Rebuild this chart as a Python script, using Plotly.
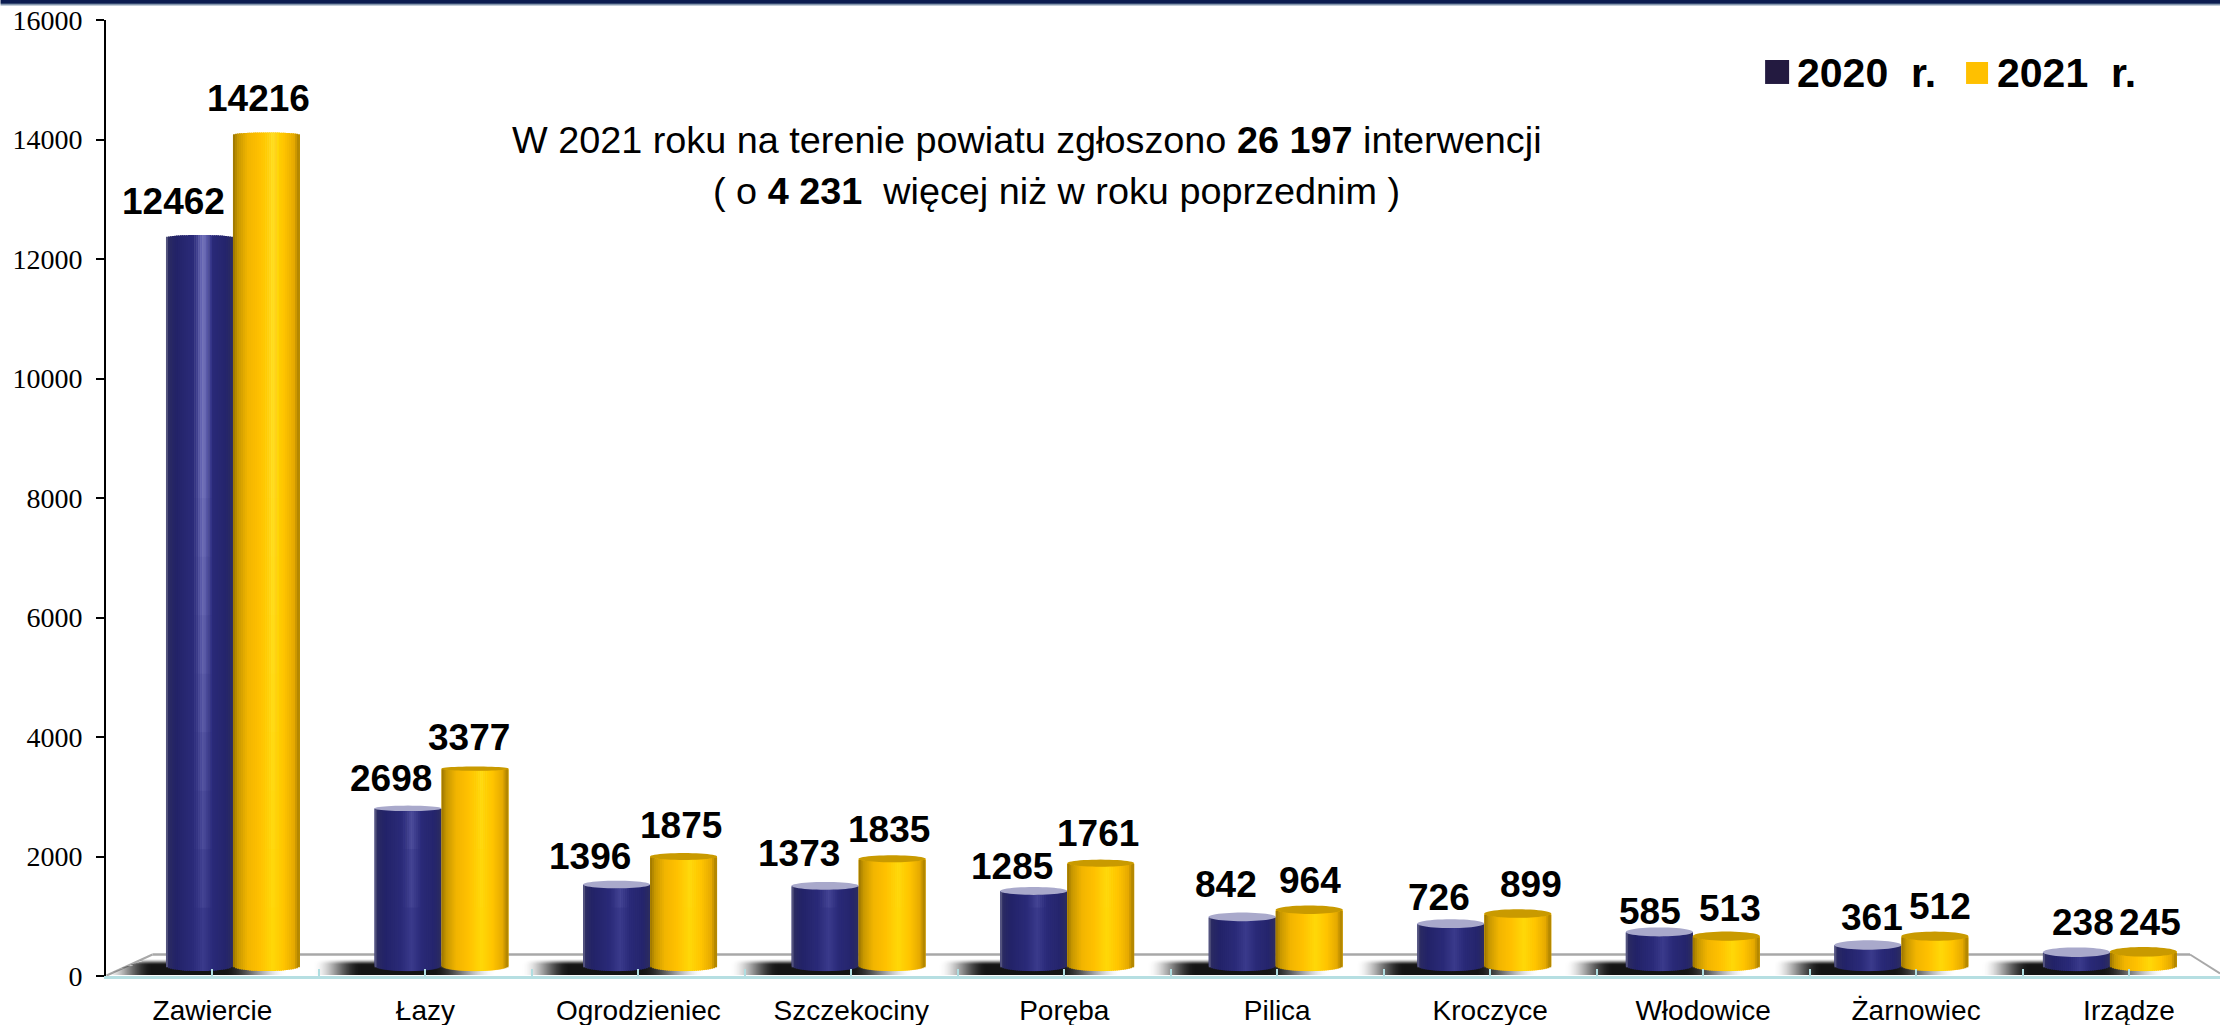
import math
import numpy as np
import plotly.graph_objects as go

# ---- data ----
CATEGORIES = ["Zawiercie", "Łazy", "Ogrodzieniec", "Szczekociny", "Poręba",
              "Pilica", "Kroczyce", "Włodowice", "Żarnowiec", "Irządze"]
VALUES_2020 = [12462, 2698, 1396, 1373, 1285, 842, 726, 585, 361, 238]
VALUES_2021 = [14216, 3377, 1875, 1835, 1761, 964, 899, 513, 512, 245]
SERIES_NAMES = ["2020\u00a0 r.", "2021\u00a0 r."]
Y_TICKS = [0, 2000, 4000, 6000, 8000, 10000, 12000, 14000, 16000]

# ---- label nudges in pixels (hand placed in the source chart) ----
DX_2020 = [-26, -17, -27, -26, -22, -16, -12, -9, 4, 7]
DY_2020 = [36, 30, 28, 32, 24, 32, 26, 20, 28, 30]
DX_2021 = [-8, -6, -3, -3, -3, 1, 13, 4, 5, 7]
DY_2021 = [36, 31, 31, 29, 30, 29, 29, 28, 30, 29]

# ---- layout geometry ----
W, H = 2220, 1025
L, T, Y0 = 105.5, 20.0, 976.5
PW, PH = W - L, Y0 - T
CAT_PX = 213.0
# projected (3D look) axes for the cylinders
BAR_STEP = 208.6
BAR_X0 = 232.5
BAR_Y0 = 966.6
BAR_SCALE = 0.0585
HALF_W = 33.5
x2_range = [(L - BAR_X0) / BAR_STEP, (W - BAR_X0) / BAR_STEP]
y2_range = [(BAR_Y0 - Y0) / BAR_SCALE, (BAR_Y0 - T) / BAR_SCALE]

def px_to_x2(px):
    return (px - BAR_X0) / BAR_STEP

def paper_x(px):
    return (px - L) / PW

def paper_y(py):
    return (Y0 - py) / PH

def hex2rgb(c):
    return tuple(int(c[i:i + 2], 16) for i in (1, 3, 5))

def ramp(stops, u):
    for (a, ca), (b, cb) in zip(stops, stops[1:]):
        if a <= u <= b:
            t = (u - a) / (b - a)
            x, y = hex2rgb(ca), hex2rgb(cb)
            return "rgb(%d,%d,%d)" % tuple(round(p + (q - p) * t) for p, q in zip(x, y))
    return stops[-1][1]

BLUE_STOPS = [(-1, "#8e8ea6"), (-0.95, "#2c2c62"), (-0.7, "#232368"), (-0.2, "#2a2a78"),
              (0.13, "#3a3a8c"), (0.42, "#2a2a78"), (0.82, "#25256c"), (1, "#2c2c60")]
GOLD_STOPS = [(-1, "#9a7400"), (-0.85, "#c89800"), (-0.55, "#f2b500"), (-0.2, "#ffc000"),
              (0.2, "#ffd808"), (0.55, "#ffc400"), (0.85, "#e6aa00"), (1, "#a88000")]
CAP_COLORS = ["#a9a9cb", "#c99a00"]
MAIN_COLORS = ["#2a2a78", "#ffc000"]
GLOW_COLORS = ["rgba(170,170,235,%.3f)", "rgba(255,240,90,%.3f)"]

def cap_ry(v):
    return max(2.0, 5.0 * (1 - v / 6000.0))

def dome(v):
    return 2.5 if v >= 6000 else 0.0

fig = go.Figure()
xs = list(range(len(CATEGORIES)))

# keeps the visible axes bound to the true values
fig.add_trace(go.Scatter(x=xs, y=VALUES_2020, mode="none", showlegend=False, hoverinfo="skip"))

# floor shadows
gx = np.arange(L, W + 1, 3.0)
gy = np.arange(957.0, 975.5, 1.0)
z = np.zeros((len(gy), len(gx)))
def smooth(t):
    t = np.clip(t, 0, 1)
    return t * t * (3 - 2 * t)
for k in xs:
    left = BAR_X0 + BAR_STEP * k - 2 * HALF_W
    prof = smooth((gx - (left - 62)) / 48) * (1 - smooth((gx - (left + 58)) / 62))
    z = np.maximum(z, prof[None, :] * smooth((gy[:, None] - 958) / 6.5))
floor_edge = L + (976 - gy[:, None]) * 47 / 21
z = z * (gx[None, :] > floor_edge)
fig.add_trace(go.Heatmap(x=[px_to_x2(p) for p in gx], y=[(BAR_Y0 - p) / BAR_SCALE for p in gy],
                         z=z.tolist(), xaxis="x2", yaxis="y2", showscale=False, hoverinfo="skip",
                         zmin=0, zmax=1, zsmooth="best",
                         colorscale=[[0, "rgba(20,20,20,0)"], [1, "rgba(20,20,20,1)"]]))

# cylinders
STRIP = 2.0
n_strips = int(2 * HALF_W / STRIP)
for s, (vals, stops) in enumerate(zip([VALUES_2020, VALUES_2021], [BLUE_STOPS, GOLD_STOPS])):
    start = -2 * HALF_W / BAR_STEP if s == 0 else 0.0
    full = 2 * HALF_W / BAR_STEP
    fig.add_trace(go.Bar(x=xs, y=vals, name=SERIES_NAMES[s], xaxis="x2", yaxis="y2",
                         width=full, offset=start, marker=dict(color=MAIN_COLORS[s], line=dict(width=0)),
                         showlegend=False, hoverinfo="skip"))
    for i in range(n_strips):
        u = -1 + (i + 0.5) * 2 / n_strips
        sq = math.sqrt(max(0, 1 - u * u))
        tops, bases = [], []
        for v in vals:
            top = v + dome(v) * sq / BAR_SCALE
            if dome(v) == 0:
                top = v - cap_ry(v) * sq / BAR_SCALE
            base = -5.0 * sq / BAR_SCALE
            tops.append(top - base)
            bases.append(base)
        off = start + i * STRIP / BAR_STEP
        w = min(STRIP * 1.5, 2 * HALF_W - i * STRIP) / BAR_STEP
        fig.add_trace(go.Bar(x=xs, y=tops, base=bases, xaxis="x2", yaxis="y2", width=w, offset=off,
                             marker=dict(color=ramp(stops, u), line=dict(width=0)),
                             showlegend=False, hoverinfo="skip"))
    # brighter sheen towards the top of tall cylinders
    centre = 0.13 if s == 0 else 0.2
    for band in [1000, 2000, 3000, 4000, 5000, 6000, 7000, 8000]:
        for i in range(n_strips):
            u = -1 + (i + 0.5) * 2 / n_strips
            a = 0.09 * max(0.0, 1 - abs(u - centre) / 0.3)
            if a < 0.005:
                continue
            if s == 1:
                a *= 0.7
            hts, bs, cx = [], [], []
            for k, v in enumerate(vals):
                if v > band:
                    sq = math.sqrt(max(0, 1 - u * u))
                    top = v + dome(v) * sq / BAR_SCALE if dome(v) else v - cap_ry(v) * sq / BAR_SCALE
                    hts.append(top - band)
                    bs.append(band)
                    cx.append(k)
            if cx:
                fig.add_trace(go.Bar(x=cx, y=hts, base=bs, xaxis="x2", yaxis="y2",
                                     width=STRIP / BAR_STEP, offset=start + i * STRIP / BAR_STEP,
                                     marker=dict(color=GLOW_COLORS[s] % a, line=dict(width=0)),
                                     showlegend=False, hoverinfo="skip"))
    # top faces
    ex, ey = [], []
    for k, v in enumerate(vals):
        if dome(v):
            continue
        c = k + (start + full / 2)
        for t in np.linspace(0, 2 * math.pi, 49):
            ex.append(c + (HALF_W / BAR_STEP) * math.cos(t))
            ey.append(v + cap_ry(v) / BAR_SCALE * math.sin(t))
        ex.append(None)
        ey.append(None)
    fig.add_trace(go.Scatter(x=ex, y=ey, xaxis="x2", yaxis="y2", mode="none", fill="toself",
                             fillcolor=CAP_COLORS[s], showlegend=False, hoverinfo="skip"))

# value labels
annotations = []
for s, (vals, dx, dy) in enumerate([(VALUES_2020, DX_2020, DY_2020), (VALUES_2021, DX_2021, DY_2021)]):
    for k, v in enumerate(vals):
        annotations.append(dict(x=k + (-HALF_W if s == 0 else HALF_W) / BAR_STEP, y=v, xref="x2", yref="y2",
                                text="<b>%d</b>" % v, showarrow=False, xshift=dx[k], yshift=dy[k],
                                xanchor="center", yanchor="middle",
                                font=dict(family="Liberation Sans", size=37, color="black")))

TEXT_FONT = dict(family="Liberation Sans", size=37.8, color="black")
annotations += [
    dict(x=paper_x(1027), y=paper_y(140), xref="paper", yref="paper", showarrow=False,
         xanchor="center", yanchor="middle", font=TEXT_FONT,
         text="W 2021 roku na terenie powiatu zgłoszono <b>26 197</b> interwencji"),
    dict(x=paper_x(1056), y=paper_y(191), xref="paper", yref="paper", showarrow=False,
         xanchor="center", yanchor="middle", font=TEXT_FONT,
         text="( o <b>4 231</b>  więcej niż w roku poprzednim )"),
]
LEGEND_FONT = dict(family="Liberation Sans", size=41, color="black")
for label, px in zip(SERIES_NAMES, [1795, 1995]):
    annotations.append(dict(x=paper_x(px), y=paper_y(73), xref="paper", yref="paper", showarrow=False,
                            xanchor="left", yanchor="middle", text="<b>%s</b>" % label, font=LEGEND_FONT))

def rect(x0, y0, x1, y1, color, layer="above"):
    return dict(type="rect", xref="paper", yref="paper", x0=paper_x(x0), x1=paper_x(x1),
                y0=paper_y(y0), y1=paper_y(y1), fillcolor=color, line=dict(width=0), layer=layer)

def seg(x0, y0, x1, y1, color, width):
    return dict(type="line", xref="paper", yref="paper", x0=paper_x(x0), x1=paper_x(x1),
                y0=paper_y(y0), y1=paper_y(y1), line=dict(color=color, width=width), layer="below")

shapes = [
    rect(0, 0, W, 3, "#0b1c50"), rect(0, 3, W, 4, "#33466f"), rect(0, 4, W, 5, "#8497ad"),
    rect(0, 5, W, 6, "#c3ccd8"),
    rect(1765, 60, 1789, 84, "#231a40"), rect(1966, 62, 1988, 84, "#ffc000"),
    seg(152, 955, 2190, 955, "#a8a8a8", 2.5),
    seg(106, 976, 152, 955, "#a8a8a8", 2),
    seg(2190, 955, 2220, 974, "#a8a8a8", 2),
]

x_tickvals, x_ticktext = [], []
for k, name in enumerate(CATEGORIES):
    x_tickvals += [k - 0.5, k]
    x_ticktext += ["", name]

fig.update_layout(
    width=W, height=H, autosize=False, barmode="overlay", showlegend=False,
    margin=dict(l=L, r=0, t=T, b=H - Y0, pad=0, autoexpand=False),
    paper_bgcolor="white", plot_bgcolor="rgba(0,0,0,0)",
    shapes=shapes, annotations=annotations,
    xaxis=dict(range=[-0.5, (W - L) / CAT_PX - 0.5], tickmode="array", tickvals=x_tickvals, ticktext=x_ticktext,
               showgrid=False, zeroline=False, showline=True, linecolor="#b6dfe2", linewidth=2.5,
               ticks="inside", ticklen=7, tickwidth=1.5, tickcolor="#b0dde0", ticklabelstandoff=8,
               automargin=False, tickfont=dict(family="Liberation Sans", size=28, color="black")),
    yaxis=dict(range=[0, 16000], tickmode="array", tickvals=Y_TICKS, ticktext=[str(v) for v in Y_TICKS],
               showgrid=False, zeroline=False,
               showline=True, linecolor="black", linewidth=2, ticks="outside", ticklen=8, tickwidth=1.5,
               tickcolor="black", ticklabelstandoff=8, automargin=False,
               tickfont=dict(family="Liberation Serif", size=28, color="black")),
    xaxis2=dict(range=x2_range, overlaying="x", visible=False, fixedrange=True),
    yaxis2=dict(range=y2_range, overlaying="y", visible=False, fixedrange=True),
)

fig.write_html("out.html", config=dict(displayModeBar=False),
               post_script="document.body.style.margin='0';document.body.style.overflow='hidden';")
